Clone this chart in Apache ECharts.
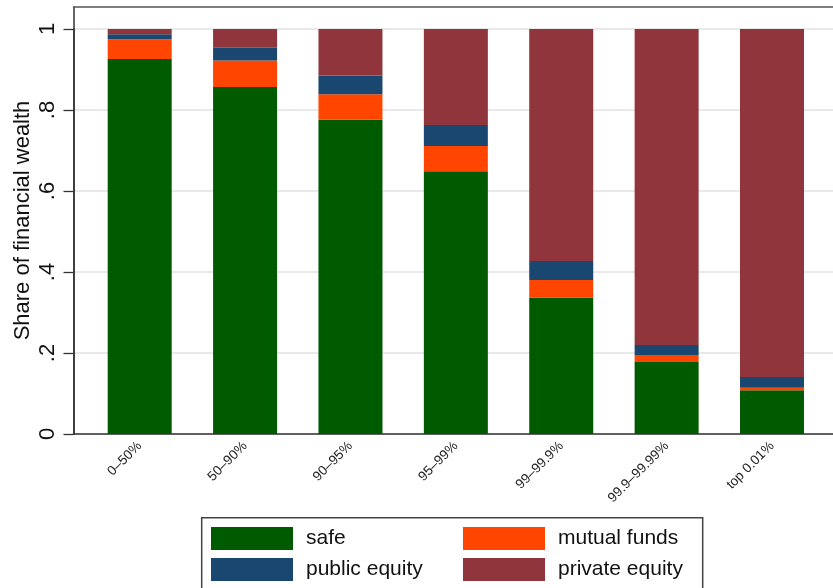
<!DOCTYPE html>
<html><head><meta charset="utf-8">
<script src="https://cdn.jsdelivr.net/npm/echarts@6/dist/echarts.min.js"></script>
<style>html,body{margin:0;padding:0;background:#fff}#c{width:833px;height:588px}</style>
</head><body><div id="c"></div>
<script>
var categories = ['0\u201350%','50\u201390%','90\u201395%','95\u201399%','99\u201399.9%','99.9\u201399.99%','top 0.01%'];
var safe       = [0.926, 0.857, 0.776, 0.649, 0.337, 0.178, 0.108];
var mutual     = [0.049, 0.065, 0.063, 0.062, 0.043, 0.017, 0.006];
var publicEq   = [0.012, 0.032, 0.046, 0.052, 0.047, 0.025, 0.027];
var privateEq  = [0.013, 0.046, 0.115, 0.237, 0.573, 0.780, 0.859];
var yTickValues = [0, 0.2, 0.4, 0.6, 0.8, 1];
var yTickLabels = ['0', '.2', '.4', '.6', '.8', '1'];
var seriesNames = ['safe', 'mutual funds', 'public equity', 'private equity'];

var FONT = 'Liberation Sans, Helvetica, Arial, sans-serif';
var colors = ['#005a00', '#ff4500', '#1a476f', '#90353b'];
var chart = echarts.init(document.getElementById('c'), null, {renderer: 'canvas'});

function labelFor(v) {
  for (var i = 0; i < yTickValues.length; i++) {
    if (Math.abs(yTickValues[i] - v) < 1e-9) return yTickLabels[i];
  }
  return '';
}

var series = [safe, mutual, publicEq, privateEq].map(function (d, i) {
  return {
    name: seriesNames[i], type: 'bar', stack: 'total', data: d,
    xAxisIndex: 2, yAxisIndex: 2, barWidth: 64,
    itemStyle: {color: colors[i]}, emphasis: {disabled: true}
  };
});

chart.setOption({
  animation: false,
  textStyle: {fontFamily: FONT},
  grid: [
    {left: 73.5, right: -5, top: 29, bottom: 154, containLabel: false},
    {left: 73.5, right: -5, top: 7, bottom: 154, containLabel: false},
    {left: 87, right: 8.3, top: 29, bottom: 154, containLabel: false}
  ],
  xAxis: [
    {gridIndex: 0, type: 'value', min: 0, max: 1, position: 'bottom',
     axisLine: {show: true, onZero: false, lineStyle: {color: '#333', width: 1.5}},
     axisTick: {show: false}, axisLabel: {show: false}, splitLine: {show: false}},
    {gridIndex: 1, type: 'value', min: 0, max: 1, position: 'top',
     axisLine: {show: true, onZero: false, lineStyle: {color: '#555', width: 1.5}},
     axisTick: {show: false}, axisLabel: {show: false}, splitLine: {show: false}},
    {gridIndex: 2, type: 'category', data: categories,
     axisLine: {show: false}, axisTick: {show: false},
     axisLabel: {rotate: 45, margin: 10, fontSize: 13.5, color: '#222', fontFamily: FONT, interval: 0}}
  ],
  yAxis: [
    {gridIndex: 0, type: 'value', min: 0, max: 1, interval: 0.2,
     axisLine: {show: true, onZero: false, lineStyle: {color: '#333', width: 1.5}},
     axisTick: {show: true, length: 10, lineStyle: {color: '#333', width: 1.3}},
     axisLabel: {rotate: 90, margin: 15, fontSize: 22, color: '#111', fontFamily: FONT, formatter: labelFor},
     splitLine: {show: true, lineStyle: {color: '#e2e2e2', width: 1.5}}},
    {gridIndex: 1, type: 'value', min: 0, max: 1,
     name: 'Share of financial wealth', nameLocation: 'middle', nameGap: 40,
     nameTextStyle: {fontSize: 22, color: '#111', fontFamily: FONT},
     axisLine: {show: true, onZero: false, lineStyle: {color: '#333', width: 1.5}},
     axisTick: {show: false}, axisLabel: {show: false}, splitLine: {show: false}},
    {gridIndex: 2, type: 'value', min: 0, max: 1, show: false}
  ],
  legend: [
    {data: ['safe', 'public equity'], orient: 'vertical', left: 211, top: 527, padding: 0,
     itemWidth: 82, itemHeight: 23, itemGap: 8, icon: 'rect', selectedMode: false,
     textStyle: {fontSize: 21, color: '#111', fontFamily: FONT, padding: [0, 0, 0, 8]}},
    {data: ['mutual funds', 'private equity'], orient: 'vertical', left: 463, top: 527, padding: 0,
     itemWidth: 82, itemHeight: 23, itemGap: 8, icon: 'rect', selectedMode: false,
     textStyle: {fontSize: 21, color: '#111', fontFamily: FONT, padding: [0, 0, 0, 8]}}
  ],
  graphic: [
    {type: 'rect', shape: {x: 201.7, y: 517.7, width: 501, height: 85},
     style: {fill: 'none', stroke: '#444', lineWidth: 1.5}, silent: true}
  ],
  series: series
});
</script>
</body></html>
